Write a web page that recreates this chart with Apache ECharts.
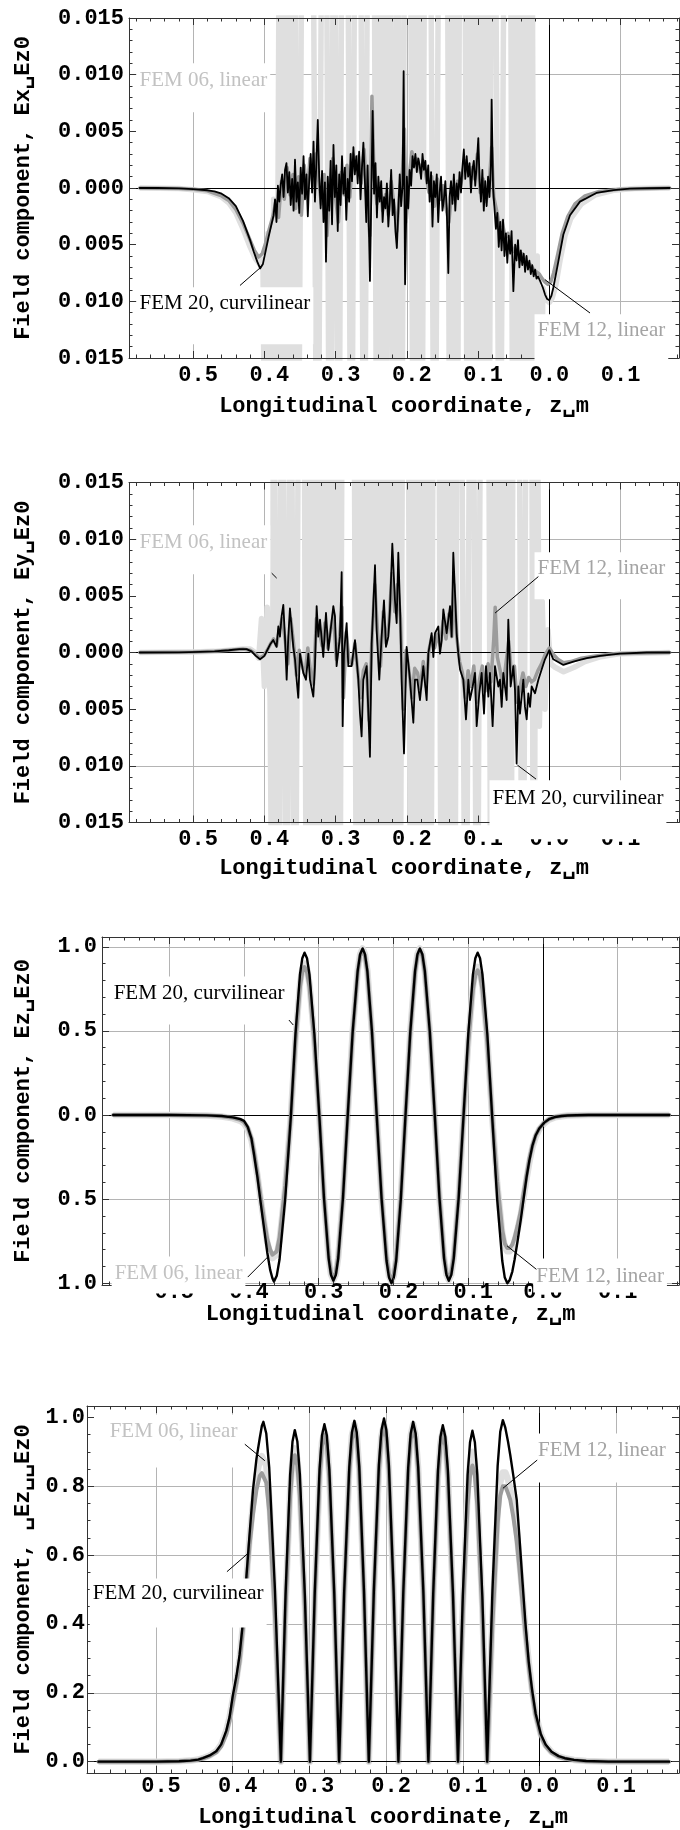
<!DOCTYPE html>
<html>
<head>
<meta charset="utf-8">
<script src="https://cdn.jsdelivr.net/npm/echarts@6.0.0/dist/echarts.min.js"></script>
<style>
html, body { margin: 0; padding: 0; background: #fff; }
#main { width: 680px; height: 1830px; }
</style>
</head>
<body>
<div id="main"></div>
<script>
// ---- data (z in m, field ratios) ----
var xMajor = [-0.5, -0.4, -0.3, -0.2, -0.1, 0, 0.1];
var xMinor = [-0.58, -0.56, -0.54, -0.52, -0.48, -0.46, -0.44, -0.42, -0.38, -0.36, -0.34, -0.32, -0.28, -0.26, -0.24, -0.22,
  -0.18, -0.16, -0.14, -0.12, -0.08, -0.06, -0.04, -0.02, 0.02, 0.04, 0.06, 0.08, 0.12, 0.14, 0.16, 0.18];
var xGrid = [-0.5, -0.4, -0.3, -0.2, -0.1, 0.1];
var exyMajor = [-0.015, -0.01, -0.005, 0, 0.005, 0.01, 0.015];
var exyMinor = [-0.014, -0.013, -0.012, -0.011, -0.009, -0.008, -0.007, -0.006, -0.004, -0.003, -0.002, -0.001,
  0.001, 0.002, 0.003, 0.004, 0.006, 0.007, 0.008, 0.009, 0.011, 0.012, 0.013, 0.014];
var exyGrid = [-0.01, -0.005, 0.005, 0.01];
var ezMajor = [-1, -0.5, 0, 0.5, 1];
var ezMinor = [-0.9, -0.8, -0.7, -0.6, -0.4, -0.3, -0.2, -0.1, 0.1, 0.2, 0.3, 0.4, 0.6, 0.7, 0.8, 0.9];
var ezGrid = [-1, -0.5, 0.5, 1];
var absMajor = [0, 0.2, 0.4, 0.6, 0.8, 1];
var absMinor = [0.05, 0.1, 0.15, 0.25, 0.3, 0.35, 0.45, 0.5, 0.55, 0.65, 0.7, 0.75, 0.85, 0.9, 0.95];
var absGrid = [0.2, 0.4, 0.6, 0.8];

// Ex/Ez0
var ex06 = [[-0.575,0],[-0.52,-0.00005],[-0.50,-0.00015],[-0.48,-0.0003],[-0.46,-0.0008],[-0.45,-0.0013],[-0.44,-0.0022],[-0.43,-0.0036],[-0.42,-0.0052],[-0.413,-0.0062],[-0.407,-0.0067],[-0.402,-0.0063],
  [-0.399,-0.03],[-0.395,-0.004],[-0.391,-0.03],[-0.387,-0.001],[-0.383,-0.03],
  [-0.378,0.04],[-0.373,-0.04],[-0.368,0.04],[-0.363,-0.04],[-0.358,0.04],[-0.353,-0.04],[-0.346,0.04],
  [-0.333,0.04],[-0.3255,-0.04],[-0.318,0.04],
  [-0.314,0.04],[-0.308,-0.04],[-0.302,0.04],[-0.296,-0.04],[-0.290,0.04],
  [-0.284,0.04],[-0.278,-0.04],[-0.272,0.04],
  [-0.266,0.04],[-0.260,-0.04],[-0.254,0.04],
  [-0.247,0.04],[-0.2415,-0.04],[-0.236,0.04],[-0.2305,-0.04],[-0.225,0.04],[-0.219,-0.04],[-0.2135,0.04],[-0.208,-0.04],[-0.202,0.04],
  [-0.196,0.04],[-0.1905,-0.04],[-0.185,0.04],[-0.1795,-0.04],[-0.174,0.04],
  [-0.168,0.04],[-0.161,-0.04],[-0.154,0.04],
  [-0.144,0.04],[-0.1392,-0.04],[-0.1345,0.04],[-0.1297,-0.04],[-0.125,0.04],
  [-0.1195,0.04],[-0.1145,-0.04],[-0.1095,0.04],[-0.1045,-0.04],[-0.0995,0.04],[-0.0945,-0.04],[-0.0895,0.04],[-0.085,-0.04],[-0.0805,0.04],
  [-0.077,0.04],[-0.0695,-0.04],[-0.062,0.04],
  [-0.0555,0.04],[-0.0505,-0.04],[-0.0455,0.04],[-0.0405,-0.04],[-0.0355,0.04],[-0.0305,-0.04],[-0.025,0.04],
  [-0.021,-0.03],[-0.017,-0.006],[-0.013,-0.03],[-0.009,-0.0088],[-0.005,-0.0098],[0.0,-0.0101],[0.004,-0.0097],[0.009,-0.0086],[0.015,-0.0064],[0.022,-0.0042],[0.030,-0.0027],[0.045,-0.0014],[0.065,-0.0006],[0.09,-0.0002],[0.12,-0.00005],[0.169,0]];
var ex12 = [[-0.575,0],[-0.52,-0.00004],[-0.50,-0.00012],[-0.48,-0.00025],[-0.46,-0.0007],[-0.45,-0.0011],[-0.44,-0.0019],[-0.43,-0.0031],[-0.42,-0.0046],[-0.414,-0.0055],[-0.408,-0.0061],[-0.403,-0.0058],[-0.398,-0.0048],[-0.393,-0.0036],[-0.388,-0.0025],
  [-0.384,-0.0012],[-0.380,-0.0026],[-0.376,0.0006],[-0.372,-0.0010],[-0.368,0.0018],[-0.364,-0.0006],[-0.360,0.0012],[-0.356,-0.0018],[-0.352,0.0010],[-0.348,-0.0024],[-0.344,0.0020],[-0.340,-0.0008],[-0.336,0.0026],[-0.332,0.0002],[-0.328,0.0030],[-0.324,0.0008],[-0.320,-0.0014],[-0.316,0.0012],[-0.312,-0.0042],[-0.308,0.0004],[-0.304,0.0026],[-0.300,-0.0010],[-0.296,-0.0030],[-0.292,0.0014],[-0.288,-0.0006],[-0.284,0.0020],[-0.280,-0.0008],[-0.276,0.0030],[-0.272,0.0016],[-0.268,0.0028],[-0.264,0.0004],[-0.260,0.0034],[-0.256,-0.0012],[-0.252,-0.0042],[-0.249,0.0081],[-0.246,0.0010],[-0.242,-0.0014],[-0.238,0.0004],[-0.234,-0.0020],[-0.230,-0.0006],[-0.226,-0.0024],[-0.222,0.0006],[-0.218,-0.0016],[-0.214,-0.0038],[-0.210,-0.0002],[-0.206,0.0016],[-0.2035,0.0052],[-0.201,-0.0030],[-0.197,0.0008],[-0.193,0.0032],[-0.189,0.0020],[-0.185,0.0026],[-0.181,0.0014],[-0.177,0.0024],[-0.173,0.0010],[-0.169,-0.0004],[-0.165,0.0010],[-0.161,-0.0016],[-0.157,0.0008],[-0.153,-0.0010],[-0.149,0.0002],[-0.145,-0.0018],[-0.141,-0.0030],[-0.137,-0.0004],[-0.133,-0.0010],[-0.129,0.0006],[-0.125,0.0000],[-0.121,0.0016],[-0.117,0.0024],[-0.113,0.0012],[-0.109,0.0018],[-0.105,0.0008],[-0.101,0.0030],[-0.097,-0.0004],[-0.093,0.0008],[-0.089,-0.0012],[-0.085,-0.0002],[-0.081,0.0036],[-0.078,-0.0008],[-0.074,-0.0020],[-0.070,-0.0034],[-0.066,-0.0030],[-0.062,-0.0044],[-0.058,-0.0040],[-0.054,-0.0050],[-0.050,-0.0056],[-0.046,-0.0052],[-0.042,-0.0060],[-0.038,-0.0058],[-0.034,-0.0064],[-0.030,-0.0066],[-0.026,-0.0068],[-0.022,-0.0072],[-0.018,-0.0074],[-0.014,-0.0076],[-0.010,-0.0080],[-0.006,-0.0083],[-0.002,-0.0085],[0.002,-0.0083],[0.006,-0.0075],[0.012,-0.0058],[0.018,-0.0040],[0.026,-0.0025],[0.036,-0.0014],[0.05,-0.0007],[0.07,-0.0003],[0.10,-0.0001],[0.169,0]];
var ex20 = [[-0.575,0],[-0.55,0],[-0.52,-0.00003],[-0.50,-0.0001],[-0.48,-0.0002],[-0.47,-0.0003],[-0.46,-0.0005],[-0.45,-0.0009],[-0.44,-0.0016],[-0.43,-0.0029],[-0.42,-0.0046],[-0.415,-0.0056],[-0.41,-0.0065],[-0.406,-0.0071],[-0.402,-0.0067],[-0.398,-0.0055],[-0.394,-0.0043],[-0.390,-0.0032],[-0.387,-0.0024],
  [-0.385,-0.0010],[-0.383,-0.0030],[-0.381,0.0002],[-0.379,-0.0012],[-0.377,0.0003],[-0.375,0.0012],[-0.373,-0.0008],[-0.371,0.0016],[-0.369,0.0022],[-0.367,-0.0004],[-0.365,0.0014],[-0.363,-0.0015],[-0.361,0.0008],[-0.359,-0.0020],[-0.357,0.0025],[-0.355,-0.0012],[-0.353,0.0005],[-0.351,-0.0022],[-0.349,0.0018],[-0.347,-0.0005],[-0.345,0.0028],[-0.343,-0.0010],[-0.341,0.0012],[-0.339,-0.0025],[-0.337,0.0008],[-0.335,0.0030],[-0.333,-0.0004],[-0.331,0.0041],[-0.329,-0.0012],[-0.327,0.0022],[-0.325,0.0060],[-0.323,0.0010],[-0.321,-0.0018],[-0.319,0.0015],[-0.317,-0.0030],[-0.315,0.0005],[-0.3135,-0.0065],[-0.311,0.0010],[-0.309,-0.0020],[-0.307,0.0024],[-0.305,-0.0032],[-0.303,0.0038],[-0.301,-0.0008],[-0.299,0.0020],[-0.297,-0.0038],[-0.295,0.0012],[-0.293,-0.0015],[-0.291,0.0028],[-0.289,-0.0005],[-0.287,0.0018],[-0.285,-0.0028],[-0.283,0.0008],[-0.281,-0.0012],[-0.279,0.0030],[-0.277,0.0006],[-0.275,0.0036],[-0.273,0.0012],[-0.271,0.0028],[-0.269,0.0004],[-0.267,0.0032],[-0.265,-0.0010],[-0.263,0.0018],[-0.261,0.0040],[-0.259,0.0008],[-0.257,-0.0030],[-0.255,0.0020],[-0.2518,-0.0082],[-0.248,0.0068],[-0.246,-0.0005],[-0.244,0.0022],[-0.242,-0.0026],[-0.240,0.0010],[-0.238,-0.0012],[-0.236,0.0006],[-0.234,-0.0030],[-0.232,-0.0008],[-0.230,-0.0018],[-0.228,0.0004],[-0.226,-0.0034],[-0.224,-0.0012],[-0.222,0.0016],[-0.220,-0.0024],[-0.218,-0.0010],[-0.216,-0.0038],[-0.214,-0.0053],[-0.212,-0.0020],[-0.210,0.0012],[-0.208,-0.0016],[-0.206,0.0002],[-0.2045,0.0103],[-0.2025,-0.0085],[-0.200,0.0010],[-0.198,-0.0018],[-0.196,0.0016],[-0.194,0.0002],[-0.192,0.0028],[-0.190,0.0018],[-0.188,0.0030],[-0.186,0.0014],[-0.184,0.0026],[-0.182,0.0020],[-0.180,0.0008],[-0.178,0.0030],[-0.176,0.0016],[-0.174,0.0024],[-0.172,0.0004],[-0.170,0.0020],[-0.168,-0.0012],[-0.166,0.0014],[-0.164,-0.0034],[-0.162,0.0006],[-0.160,-0.0008],[-0.158,0.0012],[-0.156,-0.0030],[-0.154,-0.0004],[-0.152,0.0010],[-0.150,-0.0020],[-0.148,-0.0010],[-0.146,0.0006],[-0.144,-0.0018],[-0.1418,-0.0075],[-0.140,-0.0008],[-0.138,0.0006],[-0.136,-0.0014],[-0.134,0.0012],[-0.132,-0.0020],[-0.130,0.0004],[-0.128,-0.0010],[-0.126,0.0014],[-0.124,-0.0004],[-0.122,0.0018],[-0.120,0.0034],[-0.118,0.0008],[-0.116,0.0028],[-0.114,0.0010],[-0.112,0.0022],[-0.110,-0.0004],[-0.108,0.0016],[-0.106,0.0024],[-0.104,0.0002],[-0.102,0.0020],[-0.0997,0.0044],[-0.098,0.0008],[-0.096,-0.0012],[-0.094,0.0016],[-0.092,-0.0020],[-0.090,0.0006],[-0.088,-0.0016],[-0.086,0.0010],[-0.084,-0.0008],[-0.082,0.0020],[-0.081,0.0078],[-0.079,0.0000],[-0.077,-0.0018],[-0.075,-0.0036],[-0.073,-0.0022],[-0.071,-0.0052],[-0.069,-0.0030],[-0.067,-0.0055],[-0.065,-0.0028],[-0.063,-0.0060],[-0.061,-0.0040],[-0.059,-0.0066],[-0.057,-0.0042],[-0.055,-0.0058],[-0.053,-0.0038],[-0.0505,-0.0091],[-0.048,-0.0050],[-0.046,-0.0064],[-0.044,-0.0046],[-0.042,-0.0070],[-0.040,-0.0055],[-0.038,-0.0068],[-0.036,-0.0058],[-0.034,-0.0074],[-0.032,-0.0060],[-0.030,-0.0072],[-0.028,-0.0064],[-0.026,-0.0076],[-0.024,-0.0068],[-0.022,-0.0078],[-0.020,-0.0072],[-0.018,-0.0080],[-0.016,-0.0078],[-0.013,-0.0082],[-0.009,-0.0088],[-0.006,-0.0094],[-0.003,-0.0098],[0.000,-0.0099],[0.003,-0.0095],[0.0056,-0.0088],[0.0126,-0.0065],[0.0197,-0.0041],[0.029,-0.0024],[0.043,-0.0012],[0.066,-0.00044],[0.09,-0.00018],[0.113,-0.00006],[0.14,-0.00002],[0.169,0]];

// Ey/Ez0
var ey06 = [[-0.575,0],[-0.50,0.00005],[-0.47,0.0001],[-0.45,0.0002],[-0.43,0.0003],[-0.42,0.0003],[-0.413,0],[-0.408,-0.0005],
  [-0.404,0.003],[-0.400,-0.003],[-0.396,0.004],[-0.392,-0.004],[-0.389,-0.03],
  [-0.387,0.04],[-0.381,-0.04],[-0.375,0.04],[-0.369,-0.04],[-0.363,0.04],[-0.357,-0.04],[-0.351,0.04],
  [-0.345,0.04],[-0.3405,-0.04],[-0.336,0.04],[-0.331,-0.04],[-0.326,0.04],[-0.3215,-0.04],[-0.317,0.04],[-0.3125,-0.04],[-0.308,0.04],[-0.303,-0.04],[-0.299,0.04],[-0.2945,-0.04],[-0.290,0.04],
  [-0.275,0.04],[-0.270,-0.04],[-0.265,0.04],[-0.260,-0.04],[-0.255,0.04],[-0.250,-0.04],[-0.245,0.04],[-0.240,-0.04],[-0.235,0.04],[-0.230,-0.04],[-0.225,0.04],[-0.220,-0.04],[-0.215,0.04],[-0.210,-0.04],[-0.205,0.04],
  [-0.199,0.04],[-0.194,-0.04],[-0.190,0.04],[-0.185,-0.04],[-0.181,0.04],[-0.176,-0.04],[-0.171,0.04],[-0.167,-0.04],[-0.162,0.04],
  [-0.156,0.04],[-0.151,-0.04],[-0.147,0.04],[-0.142,-0.04],[-0.138,0.04],[-0.133,-0.04],[-0.129,0.04],
  [-0.1245,0.04],[-0.1175,-0.04],[-0.1105,0.04],
  [-0.1075,0.04],[-0.1015,-0.04],[-0.0955,0.04],
  [-0.086,0.04],[-0.0815,-0.04],[-0.077,0.04],[-0.0725,-0.04],[-0.068,0.04],[-0.0635,-0.04],[-0.059,0.04],[-0.0545,-0.04],[-0.050,0.04],
  [-0.0435,0.04],[-0.0375,-0.04],[-0.0315,0.04],
  [-0.0255,0.04],[-0.0218,-0.04],[-0.018,0.04],
  [-0.014,-0.0065],[-0.010,0.0045],[-0.006,-0.005],[-0.002,0.002],[0.002,-0.001],[0.008,-0.0013],[0.02,-0.0017],[0.035,-0.0013],[0.05,-0.0008],[0.07,-0.0004],[0.1,-0.0001],[0.169,0]];
var ey12 = [[-0.575,0],[-0.50,0.00004],[-0.47,0.0001],[-0.45,0.0002],[-0.43,0.0003],[-0.42,0.0002],[-0.413,-0.0001],[-0.407,-0.0005],[-0.401,-0.0003],[-0.396,0.0002],[-0.391,0.0008],[-0.387,0.0012],
  [-0.383,0.0006],[-0.379,0.0020],[-0.375,0.0030],[-0.371,0.0012],[-0.367,-0.0010],[-0.363,0.0030],[-0.359,0.0008],[-0.355,-0.0020],[-0.351,0.0002],[-0.347,-0.0012],[-0.343,-0.0020],[-0.339,0.0004],[-0.335,-0.0018],[-0.331,-0.0028],[-0.327,0.0030],[-0.323,0.0020],[-0.319,0.0006],[-0.315,0.0026],[-0.311,0.0004],[-0.307,0.0020],[-0.303,0.0034],[-0.299,-0.0006],[-0.295,0.0010],[-0.291,0.0040],[-0.289,-0.0040],[-0.285,0.0018],[-0.281,-0.0008],[-0.277,-0.0010],[-0.273,0.0008],[-0.269,-0.0016],[-0.265,-0.0040],[-0.261,-0.0016],[-0.257,-0.0010],[-0.253,-0.0060],[-0.249,0.0012],[-0.245,0.0060],[-0.241,0.0016],[-0.237,-0.0012],[-0.233,0.0036],[-0.229,0.0008],[-0.225,0.0026],[-0.221,0.0070],[-0.217,0.0036],[-0.213,0.0060],[-0.209,0.0030],[-0.205,-0.0050],[-0.201,0.0002],[-0.197,-0.0016],[-0.193,-0.0040],[-0.189,-0.0014],[-0.185,-0.0018],[-0.181,-0.0032],[-0.177,-0.0008],[-0.173,-0.0030],[-0.169,0.0002],[-0.165,0.0014],[-0.161,0.0004],[-0.157,0.0016],[-0.153,0.0006],[-0.149,0.0028],[-0.145,0.0012],[-0.141,0.0034],[-0.137,0.0014],[-0.134,0.0060],[-0.130,0.0014],[-0.126,-0.0008],[-0.122,-0.0018],[-0.118,-0.0040],[-0.114,-0.0016],[-0.110,-0.0030],[-0.106,-0.0012],[-0.102,-0.0044],[-0.098,-0.0024],[-0.094,-0.0012],[-0.090,-0.0034],[-0.086,-0.0010],[-0.082,-0.0026],[-0.078,0.0012],[-0.076,0.0040],[-0.073,-0.0004],[-0.069,-0.0016],[-0.065,-0.0030],[-0.061,-0.0010],[-0.057,0.0010],[-0.053,-0.0020],[-0.049,-0.0012],[-0.045,-0.0044],[-0.041,-0.0030],[-0.037,-0.0018],[-0.033,-0.0030],[-0.029,-0.0022],[-0.025,-0.0026],[-0.021,-0.0024],[-0.016,-0.0016],[-0.011,-0.0010],[-0.006,-0.0002],[0.000,0.0004],[0.006,-0.0002],[0.012,-0.0006],[0.02,-0.0009],[0.03,-0.0008],[0.045,-0.0005],[0.065,-0.0003],[0.09,-0.0001],[0.169,0]];
var ey20 = [[-0.575,0],[-0.52,0.00001],[-0.49,0.00005],[-0.47,0.0001],[-0.45,0.0002],[-0.435,0.0003],[-0.425,0.0003],[-0.418,0.0001],[-0.412,-0.0003],[-0.406,-0.0006],[-0.400,-0.0003],[-0.396,0.0002],[-0.392,0.0007],
  [-0.3875,0.0011],[-0.3828,0.0005],[-0.3804,0.0023],[-0.3781,0.0014],[-0.3758,0.0032],[-0.3734,0.0042],[-0.3711,0.0014],[-0.3687,-0.0024],[-0.3664,0.0014],[-0.3641,0.0039],[-0.3594,0.0005],[-0.3570,-0.0006],[-0.3547,-0.0024],[-0.3524,-0.0040],[-0.3500,-0.0001],[-0.3453,-0.0018],[-0.3416,-0.0024],[-0.3383,-0.0001],[-0.3360,-0.0024],[-0.3313,-0.0039],[-0.3290,-0.0012],[-0.3266,0.0041],[-0.3243,0.0014],[-0.3219,0.0029],[-0.3173,-0.0004],[-0.3135,0.0035],[-0.3102,0.0002],[-0.3032,0.0041],[-0.3009,0.0032],[-0.2986,-0.0012],[-0.2939,0.0014],[-0.2915,0.0071],[-0.2901,-0.0065],[-0.2883,-0.0001],[-0.2845,0.0026],[-0.2822,-0.0012],[-0.2775,-0.0012],[-0.2728,0.0011],[-0.2681,-0.0024],[-0.2658,-0.0054],[-0.2635,-0.0074],[-0.2611,-0.0024],[-0.2564,-0.0012],[-0.2518,-0.0092],[-0.2494,0.0008],[-0.2471,0.0041],[-0.2447,0.0077],[-0.2424,0.0020],[-0.2387,-0.0024],[-0.2354,0.0014],[-0.2321,0.0046],[-0.2293,0.0005],[-0.2260,0.0014],[-0.2237,0.0038],[-0.2204,0.0096],[-0.2167,0.0046],[-0.2143,0.0026],[-0.2120,0.0088],[-0.2096,0.0041],[-0.2073,-0.0024],[-0.2040,-0.0089],[-0.2003,0.0005],[-0.1956,-0.0024],[-0.1909,-0.0062],[-0.1886,-0.0024],[-0.1853,-0.0024],[-0.1816,-0.0042],[-0.1769,-0.0012],[-0.1722,-0.0042],[-0.1699,-0.0001],[-0.1652,0.0017],[-0.1628,-0.0004],[-0.1605,0.0017],[-0.1558,0.0023],[-0.1535,-0.0001],[-0.1511,0.0011],[-0.1488,0.0038],[-0.1441,0.0017],[-0.1394,0.0041],[-0.1371,0.0014],[-0.1348,0.0088],[-0.1301,0.0017],[-0.1278,-0.0001],[-0.1254,-0.0015],[-0.1207,-0.0024],[-0.1170,-0.0059],[-0.1137,-0.0024],[-0.1114,-0.0042],[-0.1076,-0.0030],[-0.1044,-0.0018],[-0.1020,-0.0065],[-0.0983,-0.0036],[-0.0950,-0.0018],[-0.0917,-0.0054],[-0.0889,-0.0012],[-0.0856,-0.0039],[-0.0833,-0.0018],[-0.0796,-0.0065],[-0.0763,-0.0012],[-0.0716,-0.0030],[-0.0693,-0.0024],[-0.0669,-0.0048],[-0.0646,-0.0018],[-0.0599,-0.0042],[-0.0576,0.0029],[-0.0543,-0.0030],[-0.0505,-0.0012],[-0.0482,-0.0033],[-0.0459,-0.0098],[-0.0435,-0.0030],[-0.0412,-0.0054],[-0.0365,-0.0024],[-0.0342,-0.0048],[-0.0318,-0.0059],[-0.0295,-0.0036],[-0.0271,-0.0048],[-0.0248,-0.0030],[-0.0201,-0.0036],[-0.0154,-0.0024],[-0.0108,-0.0015],[-0.0061,-0.0006],[0.0000,0.0002],[0.0056,-0.0006],[0.0197,-0.0011],[0.0337,-0.0008],[0.0524,-0.0005],[0.0711,-0.0003],[0.0992,-0.0001],[0.1366,0],[0.169,0]];

// Ez/Ez0 (shared z grid)
var z3 = [-0.575,-0.50,-0.45,-0.43,-0.415,-0.405,-0.40,-0.395,-0.39,-0.3867,-0.382,-0.3777,-0.373,-0.3688,-0.365,-0.362,-0.360,-0.3562,-0.3524,-0.3448,-0.3372,
  -0.3311,-0.3251,-0.3220,-0.319,-0.3157,-0.3124,-0.3059,-0.2993,
  -0.2930,-0.2867,-0.2836,-0.2804,-0.2772,-0.2740,-0.2676,-0.2612,
  -0.2546,-0.2479,-0.2446,-0.2413,-0.2382,-0.2350,-0.2288,-0.2225,
  -0.2159,-0.2093,-0.2060,-0.2027,-0.1996,-0.1964,-0.1902,-0.1839,
  -0.1775,-0.1711,-0.1679,-0.1647,-0.1614,-0.1581,-0.1514,-0.1448,
  -0.1385,-0.1323,-0.1291,-0.126,-0.1227,-0.1194,-0.1128,-0.1062,
  -0.0999,-0.0937,-0.0905,-0.0874,-0.0842,-0.0810,-0.0745,-0.0681,
  -0.0613,-0.0545,-0.0511,-0.0477,-0.0445,-0.041,-0.038,-0.034,-0.0296,-0.026,-0.022,-0.0182,-0.014,-0.0097,-0.005,0.0017,0.008,0.0158,0.025,0.033,0.045,0.061,0.09,0.169];
var ez06 = [0,0,-0.003,-0.009,-0.02,-0.035,-0.05,-0.085,-0.15,-0.23,-0.36,-0.50,-0.64,-0.76,-0.82,-0.85,-0.86,-0.83,-0.745,-0.43,0,
  0.45,0.779,0.869,0.90,0.869,0.779,0.45,0,
  -0.49,-0.849,-0.947,-0.98,-0.947,-0.849,-0.49,0,
  0.495,0.857,0.956,0.99,0.956,0.857,0.495,0,
  -0.495,-0.857,-0.956,-0.99,-0.956,-0.857,-0.495,0,
  0.495,0.857,0.956,0.99,0.956,0.857,0.495,0,
  -0.49,-0.849,-0.947,-0.98,-0.947,-0.849,-0.49,0,
  0.44,0.762,0.85,0.88,0.85,0.762,0.44,0,
  -0.405,-0.701,-0.782,-0.81,-0.81,-0.79,-0.75,-0.68,-0.59,-0.49,-0.38,-0.28,-0.19,-0.13,-0.085,-0.05,-0.028,-0.014,-0.007,-0.003,-0.001,0,0,0];
var ez12 = [0,0,-0.002,-0.007,-0.016,-0.028,-0.042,-0.075,-0.14,-0.22,-0.35,-0.49,-0.63,-0.74,-0.80,-0.83,-0.84,-0.81,-0.727,-0.42,0,
  0.44,0.762,0.85,0.88,0.85,0.762,0.44,0,
  -0.485,-0.84,-0.937,-0.97,-0.937,-0.84,-0.485,0,
  0.49,0.849,0.947,0.98,0.947,0.849,0.49,0,
  -0.49,-0.849,-0.947,-0.98,-0.947,-0.849,-0.49,0,
  0.49,0.849,0.947,0.98,0.947,0.849,0.49,0,
  -0.485,-0.84,-0.937,-0.97,-0.937,-0.84,-0.485,0,
  0.43,0.745,0.831,0.86,0.831,0.745,0.43,0,
  -0.395,-0.684,-0.763,-0.79,-0.79,-0.77,-0.73,-0.66,-0.57,-0.47,-0.36,-0.26,-0.18,-0.12,-0.08,-0.045,-0.025,-0.012,-0.006,-0.003,-0.001,0,0,0];
var ez20 = [0,0,-0.002,-0.006,-0.014,-0.024,-0.035,-0.07,-0.14,-0.23,-0.37,-0.52,-0.68,-0.82,-0.92,-0.97,-0.99,-0.955,-0.857,-0.495,0,
  0.483,0.836,0.932,0.965,0.932,0.836,0.483,0,
  -0.493,-0.853,-0.951,-0.985,-0.951,-0.853,-0.493,0,
  0.495,0.857,0.956,0.99,0.956,0.857,0.495,0,
  -0.5,-0.866,-0.966,-1.0,-0.966,-0.866,-0.5,0,
  0.495,0.857,0.956,0.99,0.956,0.857,0.495,0,
  -0.493,-0.853,-0.951,-0.985,-0.951,-0.853,-0.493,0,
  0.483,0.836,0.932,0.965,0.932,0.836,0.483,0,
  -0.5,-0.866,-0.966,-1.0,-0.98,-0.93,-0.86,-0.75,-0.62,-0.50,-0.37,-0.27,-0.18,-0.12,-0.08,-0.045,-0.025,-0.012,-0.006,-0.003,-0.001,0,0,0];

// |Ez|/Ez0 (shared z grid)
var z4 = [-0.575,-0.50,-0.47,-0.455,-0.445,-0.439,-0.43,-0.4214,-0.415,-0.4083,-0.404,-0.40,-0.395,-0.391,-0.386,-0.382,-0.378,-0.3735,-0.369,-0.3647,-0.362,-0.360,-0.3562,-0.3524,-0.3448,-0.3372,
  -0.3311,-0.3251,-0.3220,-0.319,-0.3157,-0.3124,-0.3059,-0.2993,
  -0.2930,-0.2867,-0.2836,-0.2804,-0.2772,-0.2740,-0.2676,-0.2612,
  -0.2546,-0.2479,-0.2446,-0.2413,-0.2382,-0.2350,-0.2288,-0.2225,
  -0.2159,-0.2093,-0.2060,-0.2027,-0.1996,-0.1964,-0.1902,-0.1839,
  -0.1775,-0.1711,-0.1679,-0.1647,-0.1614,-0.1581,-0.1514,-0.1448,
  -0.1385,-0.1323,-0.1291,-0.126,-0.1227,-0.1194,-0.1128,-0.1062,
  -0.0999,-0.0937,-0.0905,-0.0874,-0.0842,-0.0810,-0.0745,-0.0681,
  -0.0613,-0.0545,-0.0511,-0.0477,-0.0445,-0.041,-0.038,-0.034,-0.0296,-0.026,-0.022,-0.0182,-0.014,-0.0097,-0.005,0.0017,0.008,0.0158,0.025,0.033,0.045,0.061,0.09,0.169];
var abs06 = [0,0,0.001,0.003,0.006,0.01,0.018,0.03,0.05,0.09,0.13,0.18,0.24,0.30,0.41,0.53,0.65,0.75,0.83,0.875,0.887,0.89,0.86,0.77,0.445,0,
  0.455,0.788,0.879,0.91,0.879,0.788,0.455,0,
  0.48,0.831,0.927,0.96,0.927,0.831,0.48,0,
  0.49,0.849,0.947,0.98,0.947,0.849,0.49,0,
  0.49,0.849,0.947,0.98,0.947,0.849,0.49,0,
  0.49,0.849,0.947,0.98,0.947,0.849,0.49,0,
  0.48,0.831,0.927,0.96,0.927,0.831,0.48,0,
  0.45,0.779,0.869,0.90,0.869,0.779,0.45,0,
  0.42,0.727,0.811,0.84,0.84,0.82,0.79,0.74,0.67,0.58,0.48,0.38,0.29,0.21,0.14,0.08,0.048,0.028,0.015,0.01,0.005,0.002,0,0];
var abs12 = [0,0,0.001,0.003,0.005,0.009,0.016,0.027,0.045,0.08,0.12,0.17,0.23,0.29,0.40,0.52,0.63,0.72,0.79,0.83,0.838,0.84,0.81,0.727,0.42,0,
  0.445,0.771,0.86,0.89,0.86,0.771,0.445,0,
  0.475,0.823,0.918,0.95,0.918,0.823,0.475,0,
  0.485,0.84,0.937,0.97,0.937,0.84,0.485,0,
  0.488,0.844,0.942,0.975,0.942,0.844,0.488,0,
  0.485,0.84,0.937,0.97,0.937,0.84,0.485,0,
  0.475,0.823,0.918,0.95,0.918,0.823,0.475,0,
  0.43,0.745,0.831,0.86,0.831,0.745,0.43,0,
  0.40,0.693,0.773,0.80,0.80,0.78,0.76,0.71,0.64,0.56,0.46,0.37,0.28,0.20,0.135,0.075,0.045,0.026,0.014,0.009,0.004,0.001,0,0];
var abs20 = [0,0,0.001,0.003,0.006,0.01,0.018,0.03,0.05,0.09,0.13,0.19,0.25,0.31,0.42,0.54,0.66,0.79,0.88,0.94,0.975,0.987,0.953,0.855,0.494,0,
  0.482,0.834,0.930,0.963,0.930,0.834,0.482,0,
  0.49,0.849,0.947,0.98,0.947,0.849,0.49,0,
  0.495,0.857,0.956,0.99,0.956,0.857,0.495,0,
  0.498,0.863,0.963,0.997,0.963,0.863,0.498,0,
  0.494,0.855,0.953,0.987,0.953,0.855,0.494,0,
  0.489,0.846,0.944,0.977,0.944,0.846,0.489,0,
  0.481,0.832,0.928,0.961,0.928,0.832,0.481,0,
  0.496,0.859,0.958,0.992,0.97,0.93,0.89,0.83,0.76,0.65,0.52,0.40,0.29,0.21,0.14,0.08,0.05,0.029,0.016,0.01,0.005,0.002,0,0];

// ---- layout / style ----
var MONO = "'Liberation Mono', 'DejaVu Sans Mono', monospace";
var SERIF = "'Liberation Serif', 'DejaVu Serif', serif";
var C06 = '#dfdfdf', C12 = '#9c9c9c', C20 = '#000';
var T06 = '#c2c2c2', T12 = '#a4a4a4', T20 = '#000';

function pairs(zs, vs) { return zs.map(function (z, i) { return [z, vs[i]]; }); }

var panels = [
  { grid: {left: 129, top: 18, right: 1, height: 340}, ymin: -0.015, ymax: 0.015,
    yMajor: exyMajor, yMinor: exyMinor, yGrid: exyGrid, yDec: 3, yLabMargin: 5, xLabMargin: 6,
    yName: 'Field component, Ex\u2423Ez0', yGap: 95, xGap: 37, thin: true,
    s06: ex06, s12: ex12, s20: ex20,
    notes: [
      {t: 'FEM 06, linear', c: T06, at: [-0.5788, 0.01097], pad: [7, 3, 21, 3]},
      {t: 'FEM 20, curvilinear', c: T20, at: [-0.5788, -0.0088], pad: [6, 3, 30, 3], lead: [[-0.4342, -0.0086], [-0.4062, -0.00706]]},
      {t: 'FEM 12, linear', c: T12, at: [-0.0201, -0.01118], pad: [6, 3, 20, 3], lead: [[0.0571, -0.01103], [-0.006, -0.00809]]}
    ] },
  { grid: {left: 129, top: 482.5, right: 1, height: 340}, ymin: -0.015, ymax: 0.015,
    yMajor: exyMajor, yMinor: exyMinor, yGrid: exyGrid, yDec: 3, yLabMargin: 5, xLabMargin: 6,
    yName: 'Field component, Ey\u2423Ez0', yGap: 95, xGap: 35, thin: true,
    s06: ey06, s12: ey12, s20: ey20,
    notes: [
      {t: 'FEM 06, linear', c: T06, at: [-0.5788, 0.01118], pad: [7, 3, 21, 3], lead: [[-0.3897, 0.0070], [-0.3827, 0.00656]]},
      {t: 'FEM 12, linear', c: T12, at: [-0.0201, 0.0088], pad: [6, 3, 20, 3], lead: [[-0.0154, 0.0067], [-0.0762, 0.00348]]},
      {t: 'FEM 20, curvilinear', c: T20, at: [-0.0833, -0.01132], pad: [8, 3, 30, 3], lead: [[-0.0187, -0.01117], [-0.0449, -0.00993]]}
    ] },
  { grid: {left: 102, top: 937, right: 1, height: 348}, ymin: -1.01, ymax: 1.058,
    yMajor: ezMajor, yMinor: ezMinor, yGrid: ezGrid, yDec: 1, yLabMargin: 5, xLabMargin: -4,
    yName: 'Field component, Ez\u2423Ez0', yGap: 68, xGap: 7, thin: false,
    s06: pairs(z3, ez06), s12: pairs(z3, ez12), s20: pairs(z3, ez20),
    notes: [
      {t: 'FEM 20, curvilinear', c: T20, at: [-0.5777, 0.820], pad: [6, 3, 21, 3], lead: [[-0.3399, 0.5645], [-0.3341, 0.535]]},
      {t: 'FEM 06, linear', c: T06, at: [-0.5764, -0.8437], pad: [6, 3, 10, 3], lead: [[-0.395, -0.963], [-0.367, -0.838]]},
      {t: 'FEM 12, linear', c: T12, at: [-0.0124, -0.856], pad: [7, 3, 6, 3], lead: [[-0.0088, -0.917], [-0.048, -0.7778]]}
    ] },
  { grid: {left: 87, top: 1406, right: 1, height: 367}, ymin: -0.033, ymax: 1.033,
    yMajor: absMajor, yMinor: absMinor, yGrid: absGrid, yDec: 1, yLabMargin: 2, xLabMargin: 2,
    yName: 'Field component, \u2423Ez\u2423\u2423Ez0', yGap: 53, xGap: 33, thin: false,
    s06: pairs(z4, abs06), s12: pairs(z4, abs12), s20: pairs(z4, abs20),
    notes: [
      {t: 'FEM 06, linear', c: T06, at: [-0.5637, 1.0067], pad: [6, 3, 26, 3], lead: [[-0.3842, 0.922], [-0.3581, 0.874]]},
      {t: 'FEM 20, curvilinear', c: T20, at: [-0.5858, 0.5305], pad: [4, 3, 24, 3], lead: [[-0.4075, 0.5517], [-0.380, 0.605]]},
      {t: 'FEM 12, linear', c: T12, at: [-0.0051, 0.9515], pad: [6, 3, 22, 3], lead: [[-0.0029, 0.876], [-0.0476, 0.794]]}
    ] }
];

var labelFont = {fontFamily: MONO, fontWeight: 'bold', fontSize: 22, color: '#000'};
var lineCol = '#333';

function axis(g, side, min, max, ticks, len, extra) {
  var a = {
    type: 'value', gridIndex: g, position: side, min: min, max: max, z: 6,
    axisLine: {show: len > 4, onZero: false, lineStyle: {color: lineCol, width: 1}},
    axisTick: {show: true, inside: true, length: len, customValues: ticks, lineStyle: {color: lineCol, width: 1}},
    axisLabel: {show: false},
    splitLine: {show: false}
  };
  for (var k in extra) a[k] = extra[k];
  return a;
}

var xAxes = [], yAxes = [], grids = [], series = [];
panels.forEach(function (p, g) {
  grids.push(p.grid);
  xAxes.push(axis(g, 'bottom', -0.59, 0.182, xMajor, 7, {
    axisLabel: {show: true, customValues: xMajor, margin: p.xLabMargin,
      fontFamily: MONO, fontWeight: 'bold', fontSize: 22, color: '#000',
      formatter: function (v) {
        var s = Math.abs(v).toFixed(1);
        return v < -1e-9 ? '{n|' + s + '}' : s;
      },
      rich: {n: {padding: [0, 0, 0, 10], fontFamily: MONO, fontWeight: 'bold', fontSize: 22, color: '#000'}}},
    name: 'Longitudinal coordinate, z\u2423m', nameLocation: 'middle', nameGap: p.xGap, nameTextStyle: labelFont
  }));
  xAxes.push(axis(g, 'top', -0.59, 0.182, xMajor, 7, {}));
  xAxes.push(axis(g, 'bottom', -0.59, 0.182, xMinor, 3.5, {}));
  xAxes.push(axis(g, 'top', -0.59, 0.182, xMinor, 3.5, {}));
  yAxes.push(axis(g, 'left', p.ymin, p.ymax, p.yMajor, 7, {
    axisLabel: {show: true, customValues: p.yMajor, margin: p.yLabMargin,
      fontFamily: MONO, fontWeight: 'bold', fontSize: 22, color: '#000',
      formatter: function (v) { return Math.abs(v).toFixed(p.yDec); }},
    name: p.yName, nameLocation: 'middle', nameGap: p.yGap, nameTextStyle: labelFont
  }));
  yAxes.push(axis(g, 'right', p.ymin, p.ymax, p.yMajor, 7, {}));
  yAxes.push(axis(g, 'left', p.ymin, p.ymax, p.yMinor, 3.5, {}));
  yAxes.push(axis(g, 'right', p.ymin, p.ymax, p.yMinor, 3.5, {}));

  var base = {type: 'line', xAxisIndex: 4 * g, yAxisIndex: 4 * g, showSymbol: false, symbol: 'none',
    silent: true, animation: false};
  var gridLines = p.yGrid.map(function (v) { return {yAxis: v}; })
    .concat(xGrid.map(function (v) { return {xAxis: v}; }));

  series.push(Object.assign({}, base, {
    name: 'FEM 06, linear', data: p.s06, z: 2,
    lineStyle: {color: C06, width: p.thin ? 5.5 : 6.5, join: 'round', cap: 'butt'},
    markLine: {silent: true, symbol: 'none', z: 1, animation: false, label: {show: false},
      lineStyle: {color: '#b4b4b4', width: 1, type: 'solid'}, data: gridLines}
  }));
  series.push(Object.assign({}, base, {
    name: 'FEM 12, linear', data: p.s12, z: 4,
    lineStyle: {color: C12, width: p.thin ? 3.5 : 4, join: 'round', cap: 'round'},
    markLine: {silent: true, symbol: 'none', z: 3, animation: false, label: {show: false},
      lineStyle: {color: '#000', width: 1, type: 'solid'}, data: [{yAxis: 0}, {xAxis: 0}]}
  }));
  series.push(Object.assign({}, base, {
    name: 'FEM 20, curvilinear', data: p.s20, z: 5, clip: false,
    lineStyle: {color: C20, width: p.thin ? 1.8 : 2.4, join: 'round', cap: 'round'},
    markLine: {silent: true, symbol: 'none', z: 11, animation: false, label: {show: false},
      lineStyle: {color: '#000', width: 1, type: 'solid'},
      data: p.notes.filter(function (n) { return n.lead; }).map(function (n) {
        return [{coord: n.lead[0]}, {coord: n.lead[1]}];
      })},
    markPoint: {silent: true, z: 10, animation: false,
      data: p.notes.map(function (n) {
        return {coord: n.at, symbol: 'rect', symbolSize: 1, itemStyle: {color: 'rgba(0,0,0,0)'},
          label: {show: true, position: [0, 0], align: 'left', verticalAlign: 'top', formatter: n.t,
            fontFamily: SERIF, fontSize: 21, lineHeight: 21, color: n.c,
            backgroundColor: '#fff', padding: n.pad}};
      })}
  }));
});

var chart = echarts.init(document.getElementById('main'), null, {renderer: 'canvas'});
chart.setOption({
  backgroundColor: '#fff',
  animation: false,
  grid: grids,
  xAxis: xAxes,
  yAxis: yAxes,
  series: series
});
</script>
</body>
</html>
